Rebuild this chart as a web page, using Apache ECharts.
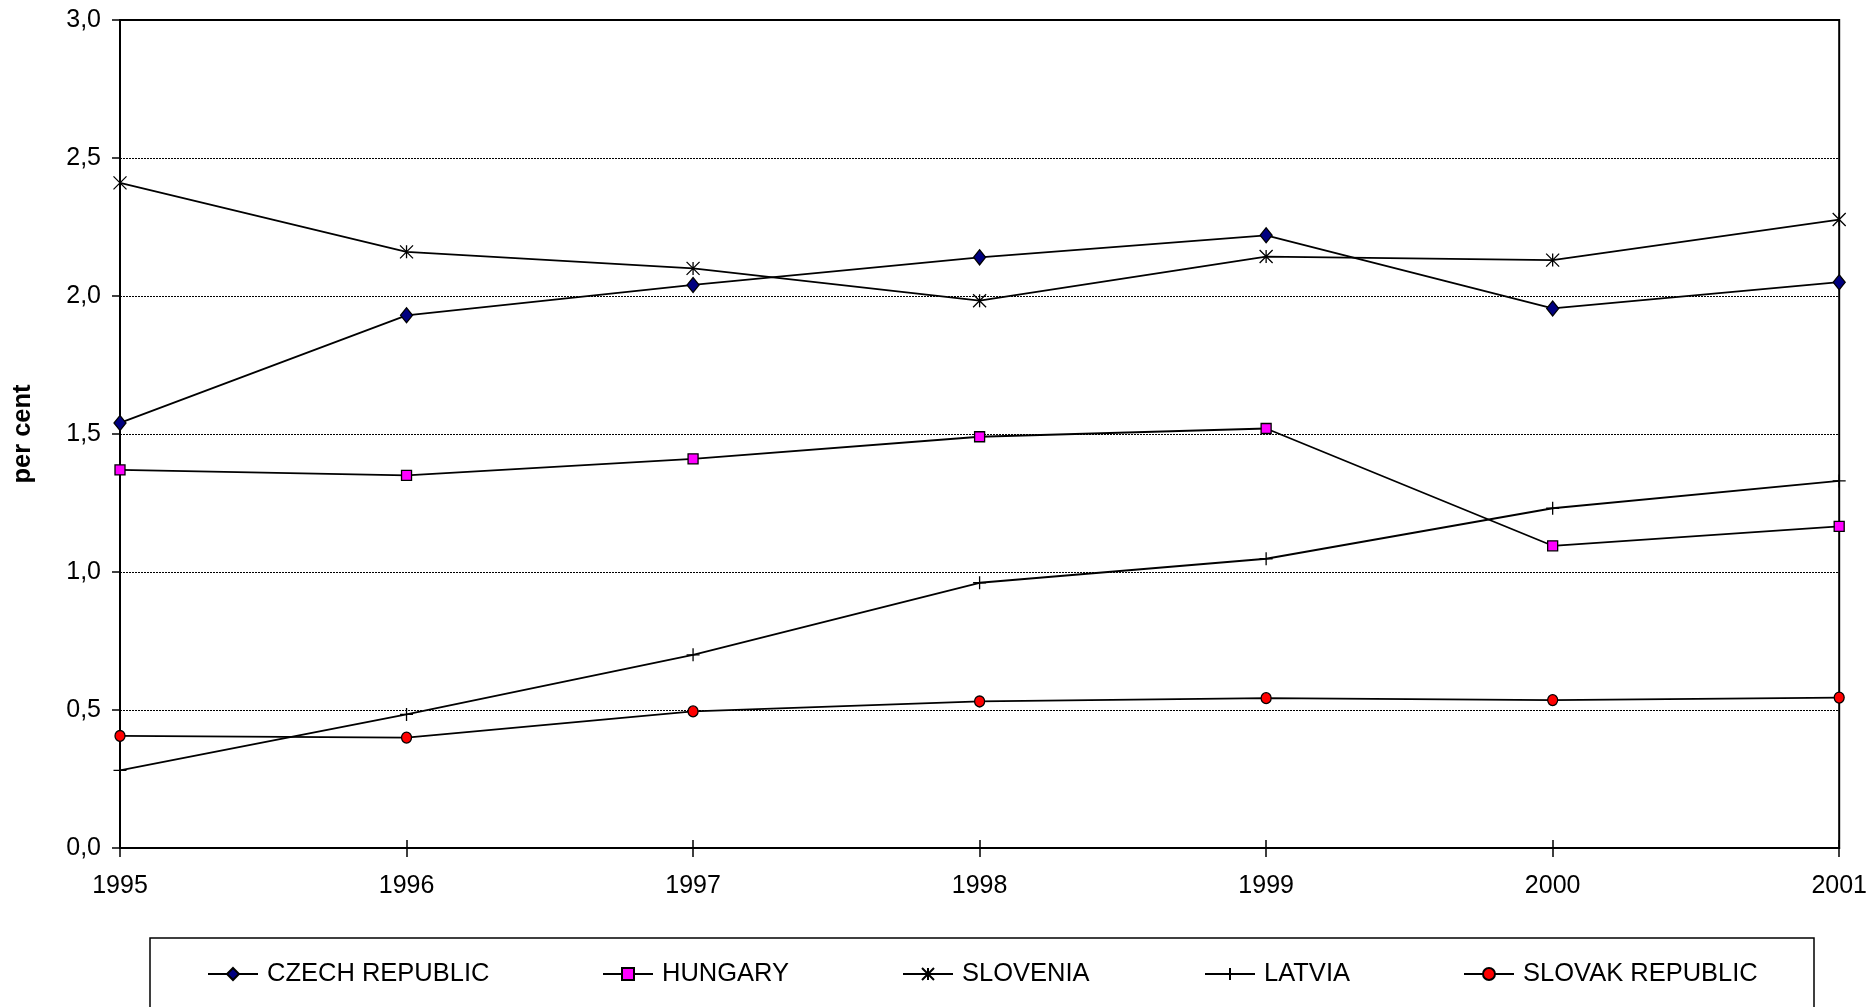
<!DOCTYPE html>
<html>
<head>
<meta charset="utf-8">
<script src="https://cdn.jsdelivr.net/npm/echarts@6/dist/echarts.min.js"></script>
<style>
html,body{margin:0;padding:0;background:#fff;}
#chart{width:1870px;height:1007px;}
</style>
</head>
<body>
<div id="chart"></div>
<script>
const categories = ['1995', '1996', '1997', '1998', '1999', '2000', '2001'];
const seriesNames = ['CZECH REPUBLIC', 'HUNGARY', 'SLOVENIA', 'LATVIA', 'SLOVAK REPUBLIC'];
const czech    = [1.54, 1.93, 2.04, 2.14, 2.22, 1.955, 2.05];
const hungary  = [1.37, 1.35, 1.41, 1.49, 1.52, 1.095, 1.165];
const slovenia = [2.41, 2.16, 2.10, 1.983, 2.143, 2.13, 2.277];
const latvia   = [0.281, 0.484, 0.70, 0.961, 1.048, 1.231, 1.33];
const slovak   = [0.406, 0.40, 0.495, 0.531, 0.543, 0.536, 0.545];
const yTickLabels = ['0,0', '0,5', '1,0', '1,5', '2,0', '2,5', '3,0'];
const yAxisTitle = 'per cent';

const FONT = "'Liberation Sans', Arial, sans-serif";
const FS = 25;
const ASTERISK = 'path://M0,0L12,12M12,0L0,12M6,0L6,12';
const PLUS = 'path://M0,6L12,6M6,0L6,12';

const chart = echarts.init(document.getElementById('chart'), null, {renderer: 'canvas'});

function mkSeries(name, data, symbol, size, fill) {
  return {
    name: name,
    type: 'line',
    data: data,
    xAxisIndex: 0,
    symbol: symbol,
    symbolSize: size,
    showAllSymbol: true,
    lineStyle: {color: '#000', width: 1.8},
    itemStyle: {color: fill, borderColor: '#000', borderWidth: 1.3},
    emphasis: {disabled: true},
    z: 3
  };
}

const legendLefts = [207, 602, 902, 1204, 1463];
const legends = seriesNames.map((n, i) => ({
  data: [n],
  left: legendLefts[i],
  top: 961,
  padding: 0,
  itemWidth: 50,
  itemHeight: 15,
  selectedMode: false,
  textStyle: {fontFamily: FONT, fontSize: FS + 0.5, color: '#000', lineHeight: 25, padding: [0, 0, 0, 4]}
}));

const option = {
  backgroundColor: '#fff',
  animation: false,
  textStyle: {fontFamily: FONT},
  grid: {left: 120, right: 30, top: 20, bottom: 159, show: true, borderColor: '#000', borderWidth: 2, backgroundColor: 'transparent'},
  legend: legends,
  graphic: [{
    type: 'rect',
    shape: {x: 150, y: 938, width: 1664, height: 120},
    style: {fill: 'none', stroke: '#000', lineWidth: 1.5},
    silent: true
  }],
  xAxis: [{
    type: 'category',
    data: categories,
    boundaryGap: false,
    position: 'bottom',
    axisLine: {show: true, lineStyle: {color: '#000', width: 2}},
    axisTick: {show: true, inside: false, length: 9, lineStyle: {color: '#000', width: 1.5}},
    axisLabel: {fontFamily: FONT, fontSize: FS, color: '#000', margin: 26, showMinLabel: true, showMaxLabel: true, interval: 0},
    splitLine: {show: false}
  }, {
    type: 'category',
    data: categories,
    boundaryGap: false,
    position: 'bottom',
    axisLine: {show: false},
    axisTick: {show: true, inside: true, length: 8, lineStyle: {color: '#000', width: 1.5}},
    axisLabel: {show: false},
    splitLine: {show: false}
  }],
  yAxis: {
    type: 'value',
    min: 0,
    max: 3,
    interval: 0.5,
    name: yAxisTitle,
    nameLocation: 'middle',
    nameGap: 84,
    nameRotate: 90,
    nameTextStyle: {fontFamily: FONT, fontSize: FS + 0.5, fontWeight: 'bold', color: '#000'},
    axisLine: {show: true, lineStyle: {color: '#000', width: 2}},
    axisTick: {show: true, inside: false, length: 8, lineStyle: {color: '#000', width: 1.5}},
    axisLabel: {
      fontFamily: FONT, fontSize: FS, color: '#000', margin: 19,
      formatter: function (v) { return yTickLabels[Math.round(v / 0.5)]; }
    },
    splitLine: {show: true, lineStyle: {color: '#000', width: 1, type: [2, 1]}}
  },
  series: [
    mkSeries(seriesNames[0], czech, 'diamond', [12, 15], '#000080'),
    mkSeries(seriesNames[1], hungary, 'rect', [10, 10], '#FF00FF'),
    mkSeries(seriesNames[2], slovenia, ASTERISK, [13, 13], '#000'),
    mkSeries(seriesNames[3], latvia, PLUS, [13, 13], '#000'),
    mkSeries(seriesNames[4], slovak, 'circle', [10, 11], '#FF0000')
  ]
};
chart.setOption(option);
</script>
</body>
</html>
